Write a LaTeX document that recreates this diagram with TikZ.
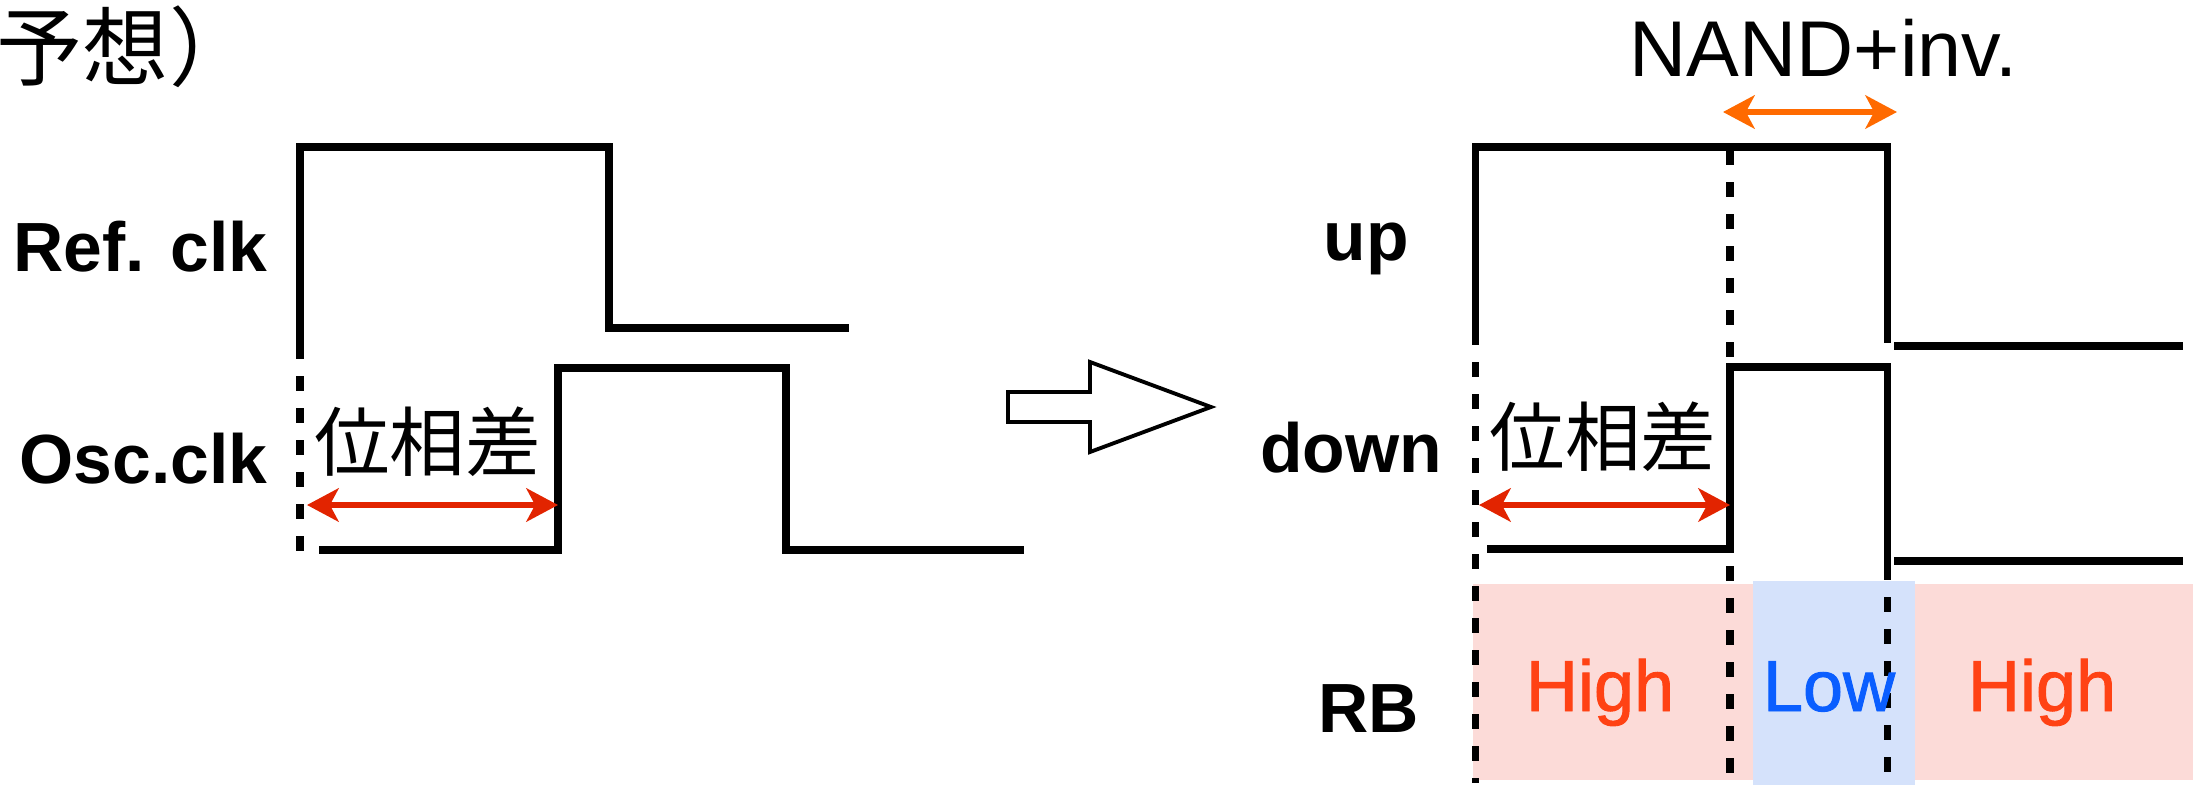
\documentclass[tikz,border=0pt]{standalone}
\usepackage{fontspec}
\setmainfont{Liberation Sans}
\newfontfamily\cjk{Noto Sans CJK JP}
\newfontfamily\medfont[FakeBold=1.3]{Liberation Sans}
\usetikzlibrary{arrows.meta}
\definecolor{redarr}{RGB}{226,36,0}
\definecolor{orangearr}{RGB}{255,106,0}
\definecolor{hightxt}{RGB}{255,66,20}
\definecolor{lowtxt}{RGB}{10,94,255}
\definecolor{pinkfill}{RGB}{252,219,216}
\definecolor{bluefill}{RGB}{213,226,251}
\begin{document}
\begin{tikzpicture}[x=0.01cm,y=-0.01cm,
  wave/.style={line width=2pt, line join=miter},
  vdash/.style={line width=2pt, dash pattern=on 4.3pt off 4.8pt},
  lbl/.style={inner sep=0pt, font=\fontsize{19.8}{22}\selectfont\bfseries},
  jtext/.style={inner sep=0pt, font=\fontsize{21.5}{24}\selectfont\cjk},
  state/.style={inner sep=0pt, anchor=base, font=\fontsize{20.5}{24}\selectfont\medfont},
  dblarrow/.style={line width=1.5pt, {Stealth[length=9pt,width=9.5pt,inset=2.5pt]}-{Stealth[length=9pt,width=9.5pt,inset=2.5pt]}}
]
\useasboundingbox (0,0) rectangle (2193,797);

% title fragment
\node[inner sep=0pt, anchor=base west, font=\fontsize{24.5}{28}\selectfont\cjk] (title) at (-4,80) {予想）};

% ---------- left panel ----------
\node[lbl, anchor=base west] (reflbl) at (12.5,271) {Ref. clk};
\node[lbl, anchor=base west] (osclbl) at (19,483) {Osc.clk};

\draw[wave] (300,344) -- (300,147) -- (609,147) -- (609,328) -- (849,328);
\draw[wave] (319,550) -- (558,550) -- (558,368) -- (786,368) -- (786,550) -- (1024,550);
\draw[vdash] (300,344) -- (300,568);

\coordinate (pdLa) at (307,505);
\coordinate (pdLb) at (558,505);
\draw[dblarrow, redarr] (pdLa) -- (pdLb);
\node[jtext] (phaseL) at (427.5,442) {位相差};

% ---------- big hollow arrow ----------
\draw[line width=1.1pt, line join=miter] (1008,392) -- (1090,392) -- (1090,362) -- (1211,407) -- (1090,452) -- (1090,422) -- (1008,422) -- cycle;

% ---------- right panel ----------
\fill[pinkfill] (1473,584) rectangle (1757,780);
\fill[pinkfill] (1909,584) rectangle (2193,780);
\fill[bluefill] (1753,581) rectangle (1915,785);

\node[lbl, anchor=base west] (uplbl) at (1323,260) {up};
\node[lbl, anchor=base west] (downlbl) at (1259.5,472) {down};
\node[lbl, anchor=base west] (rblbl) at (1318,732) {RB};

\draw[wave] (1475.5,330) -- (1475.5,147) -- (1887,147) -- (1887,343);
\draw[wave] (1894,346) -- (2183,346);
\draw[wave] (1487,549) -- (1730,549) -- (1730,367) -- (1887,367) -- (1887,565);
\draw[wave] (1894,561) -- (2183,561);

\draw[vdash] (1475.5,330) -- (1475.5,783);
\draw[vdash] (1730,150) -- (1730,783);
\draw[vdash] (1887,565) -- (1887,788);

\coordinate (pdRa) at (1479,505);
\coordinate (pdRb) at (1730,505);
\draw[dblarrow, redarr] (pdRa) -- (pdRb);
\node[jtext] (phaseR) at (1603,437) {位相差};

\coordinate (nandA) at (1723,112);
\coordinate (nandB) at (1897,112);
\draw[dblarrow, orangearr] (nandA) -- (nandB);
\node[inner sep=0pt, anchor=base west, font=\fontsize{22.5}{26}\selectfont] (nandlbl) at (1629,76) {NAND+inv.};

\node[state, hightxt] (high1) at (1600,711) {High};
\node[state, lowtxt] (low1) at (1829,711) {Low};
\node[state, hightxt] (high2) at (2042,711) {High};
\end{tikzpicture}
\end{document}
